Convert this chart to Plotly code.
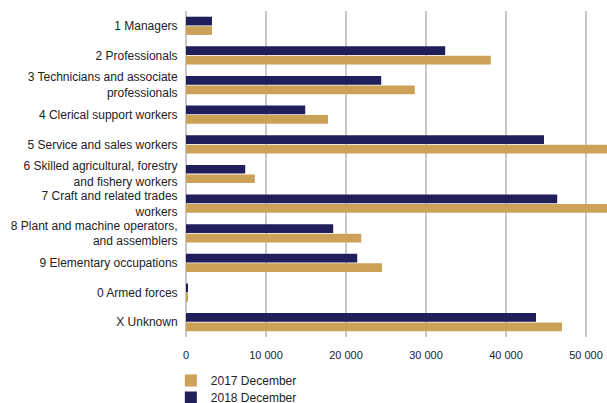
import plotly.graph_objects as go

categories = [
    "1 Managers",
    "2 Professionals",
    "3 Technicians and associate<br>professionals",
    "4 Clerical support workers",
    "5 Service and sales workers",
    "6 Skilled agricultural, forestry<br>and fishery workers",
    "7 Craft and related trades<br>workers",
    "8 Plant and machine operators,<br>and assemblers",
    "9 Elementary occupations",
    "0 Armed forces",
    "X Unknown",
]
values_2018 = [3250, 32400, 24400, 14900, 44750, 7400, 46400, 18400, 21400, 200, 43750]
values_2017 = [3250, 38100, 28600, 17750, 55000, 8600, 56000, 21900, 24500, 150, 47000]
tick_vals = [0, 10000, 20000, 30000, 40000, 50000]
tick_text = ["0", "10 000", "20 000", "30 000", "40 000", "50 000"]

NAVY = "#201e5b"
TAN = "#cca259"

fig = go.Figure()
fig.add_trace(go.Bar(y=categories, x=values_2018, orientation="h", name="2018 December",
                     marker=dict(color=NAVY, line=dict(width=0)), legend="legend2"))
fig.add_trace(go.Bar(y=categories, x=values_2017, orientation="h", name="2017 December",
                     marker=dict(color=TAN, line=dict(width=0)), legend="legend"))

legend_common = dict(orientation="v", x=-0.036, xanchor="left", yanchor="top",
                     font=dict(size=12), itemwidth=30, bgcolor="rgba(0,0,0,0)")

fig.update_layout(
    width=607, height=403,
    margin=dict(l=186, r=0, t=11, b=66, autoexpand=False),
    paper_bgcolor="white", plot_bgcolor="white",
    barmode="group", bargap=0.36, bargroupgap=0.08,
    font=dict(family="Liberation Sans, Arial, sans-serif", size=12, color="#222222"),
    showlegend=True,
    legend=dict(y=-0.089, **legend_common),
    legend2=dict(y=-0.141, **legend_common),
    xaxis=dict(range=[0, 52625], tickvals=tick_vals, ticktext=tick_text,
               tickfont=dict(size=11),
               showgrid=True, gridcolor="#c8c8c8", gridwidth=2,
               zeroline=True, zerolinecolor="#c8c8c8", zerolinewidth=2,
               showline=False, ticks="outside", ticklen=8, tickcolor="rgba(0,0,0,0)",
               fixedrange=True, automargin=False),
    yaxis=dict(autorange="reversed", showgrid=False, ticks="outside", ticklen=5,
               tickcolor="rgba(0,0,0,0)", showline=False, fixedrange=True,
               automargin=False),
)

fig.write_html("out.html",
               config={"displayModeBar": False},
               post_script="document.body.style.margin='0';document.body.style.overflow='hidden';")
